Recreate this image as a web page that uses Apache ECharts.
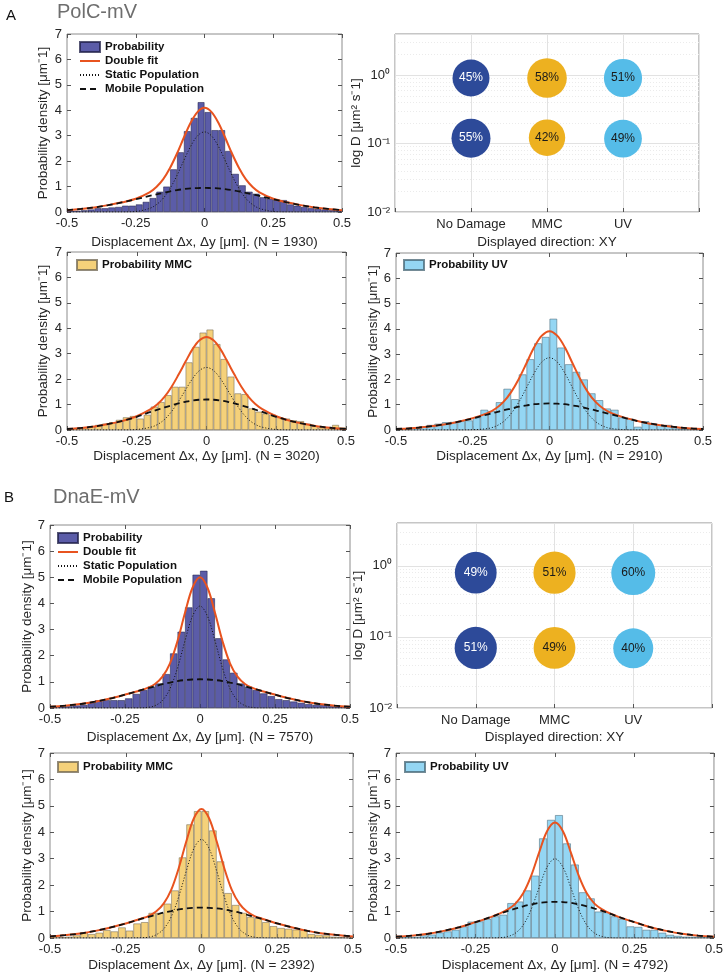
<!DOCTYPE html>
<html>
<head>
<meta charset="utf-8">
<script src="https://cdn.jsdelivr.net/npm/echarts@6/dist/echarts.min.js"></script>
<style>html,body{margin:0;padding:0;background:#fff}#c{width:726px;height:977px}</style>
</head>
<body>
<div id="c"></div>
<script>
// ---------------- DATA ----------------
const binStart = -0.5, binWidth = 0.025;          // 40 histogram bins over [-0.5, 0.5]
const xTicks = [-0.5, -0.25, 0, 0.25, 0.5];
const fitX = [-0.5,-0.45,-0.4,-0.35,-0.3,-0.25,-0.2,-0.175,-0.15,-0.125,-0.1,-0.075,-0.05,-0.025,0,0.025,0.05,0.075,0.1,0.125,0.15,0.175,0.2,0.25,0.3,0.35,0.4,0.45,0.5];

// Panel A (PolC-mV)
const aProbN = 1930, aMmcN = 3020, aUvN = 2910;
const aProbBins = [0.05,0.05,0.07,0.1,0.15,0.15,0.18,0.2,0.25,0.25,0.3,0.4,0.55,0.8,1.0,1.68,2.35,3.18,3.7,4.32,3.93,3.22,3.22,2.4,1.5,1.05,0.8,0.72,0.58,0.52,0.48,0.47,0.3,0.25,0.2,0.15,0.12,0.1,0.08,0.05];
const aProbStatic = [0,0,0,0,0,0.02,0.14,0.29,0.54,0.93,1.44,2.03,2.59,3.00,3.15,3.00,2.59,2.03,1.44,0.93,0.54,0.29,0.14,0.02,0,0,0,0,0];
const aProbMobile = [0.07,0.12,0.18,0.27,0.38,0.50,0.63,0.69,0.75,0.81,0.86,0.90,0.93,0.94,0.95,0.94,0.93,0.90,0.86,0.81,0.75,0.69,0.63,0.50,0.38,0.27,0.18,0.12,0.07];
const aProbDouble = [0.07,0.12,0.18,0.27,0.38,0.52,0.77,0.98,1.29,1.74,2.30,2.93,3.52,3.94,4.10,3.94,3.52,2.93,2.30,1.74,1.29,0.98,0.77,0.52,0.38,0.27,0.18,0.12,0.07];

const aMmcBins = [0.05,0.08,0.1,0.15,0.2,0.25,0.3,0.4,0.5,0.55,0.45,0.6,0.92,1.1,1.37,1.7,1.7,2.66,3.27,3.83,3.95,3.38,2.79,2.1,1.44,1.41,0.85,0.72,0.65,0.6,0.5,0.45,0.38,0.35,0.25,0.15,0.1,0.1,0.2,0.1];
const aMmcStatic = [0,0,0,0,0,0.02,0.11,0.22,0.42,0.73,1.13,1.58,2.02,2.34,2.46,2.34,2.02,1.58,1.13,0.73,0.42,0.22,0.11,0.02,0,0,0,0,0];
const aMmcMobile = [0.04,0.08,0.14,0.24,0.36,0.52,0.71,0.80,0.89,0.97,1.05,1.11,1.16,1.19,1.20,1.19,1.16,1.11,1.05,0.97,0.89,0.80,0.71,0.52,0.36,0.24,0.14,0.08,0.04];
const aMmcDouble = [0.04,0.08,0.14,0.24,0.36,0.54,0.82,1.02,1.31,1.70,2.18,2.69,3.18,3.53,3.66,3.53,3.18,2.69,2.18,1.70,1.31,1.02,0.82,0.54,0.36,0.24,0.14,0.08,0.04];

const aUvBins = [0.03,0.05,0.1,0.15,0.2,0.25,0.31,0.32,0.35,0.38,0.5,0.8,0.75,1.1,1.63,1.22,2.2,2.8,3.43,3.68,4.4,3.26,2.6,2.3,2.0,1.45,1.18,0.85,0.8,0.5,0.45,0.13,0.35,0.25,0.2,0.2,0.1,0.05,0.05,0.03];
const aUvStatic = [0,0,0,0,0,0.01,0.06,0.15,0.33,0.65,1.10,1.67,2.25,2.69,2.86,2.69,2.25,1.67,1.10,0.65,0.33,0.15,0.06,0.01,0,0,0,0,0];
const aUvMobile = [0.04,0.07,0.13,0.21,0.32,0.46,0.62,0.70,0.78,0.85,0.92,0.97,1.02,1.04,1.05,1.04,1.02,0.97,0.92,0.85,0.78,0.70,0.62,0.46,0.32,0.21,0.13,0.07,0.04];
const aUvDouble = [0.04,0.07,0.13,0.21,0.32,0.47,0.68,0.85,1.11,1.50,2.02,2.64,3.27,3.73,3.91,3.73,3.27,2.64,2.02,1.50,1.11,0.85,0.68,0.47,0.32,0.21,0.13,0.07,0.04];

// Panel B (DnaE-mV)
const bProbN = 7570, bMmcN = 2392, bUvN = 4792;
const bProbBins = [0.03,0.05,0.07,0.1,0.12,0.2,0.3,0.3,0.3,0.3,0.37,0.54,0.69,0.82,0.94,1.3,2.09,2.92,3.85,5.1,5.25,4.2,2.67,1.86,1.35,0.94,0.82,0.69,0.56,0.46,0.34,0.3,0.25,0.2,0.15,0.12,0.12,0.08,0.05,0.03];
const bProbStatic = [0,0,0,0,0,0,0,0.02,0.09,0.29,0.74,1.53,2.57,3.51,3.90,3.51,2.57,1.53,0.74,0.29,0.09,0.02,0,0,0,0,0,0,0];
const bProbMobile = [0.05,0.09,0.15,0.24,0.36,0.51,0.67,0.75,0.83,0.91,0.97,1.03,1.07,1.09,1.10,1.09,1.07,1.03,0.97,0.91,0.83,0.75,0.67,0.51,0.36,0.24,0.15,0.09,0.05];
const bProbDouble = [0.05,0.09,0.15,0.24,0.36,0.51,0.67,0.77,0.92,1.20,1.71,2.56,3.64,4.60,5.00,4.60,3.64,2.56,1.71,1.20,0.92,0.77,0.67,0.51,0.36,0.24,0.15,0.09,0.05];

const bMmcBins = [0.05,0.03,0.05,0.1,0.2,0.15,0.2,0.3,0.25,0.4,0.28,0.55,0.6,0.95,0.95,1.3,1.8,3.05,4.3,4.8,4.8,4.07,2.9,1.7,1.25,0.95,0.8,0.75,0.6,0.45,0.38,0.35,0.32,0.3,0.15,0.12,0.1,0.05,0.03,0.02];
const bMmcStatic = [0,0,0,0,0,0,0.01,0.03,0.12,0.34,0.80,1.57,2.54,3.39,3.73,3.39,2.54,1.57,0.80,0.34,0.12,0.03,0.01,0,0,0,0,0,0];
const bMmcMobile = [0.06,0.11,0.17,0.27,0.40,0.55,0.72,0.80,0.88,0.96,1.02,1.08,1.12,1.14,1.15,1.14,1.12,1.08,1.02,0.96,0.88,0.80,0.72,0.55,0.40,0.27,0.17,0.11,0.06];
const bMmcDouble = [0.06,0.11,0.17,0.27,0.40,0.55,0.73,0.83,1.00,1.30,1.82,2.65,3.66,4.53,4.88,4.53,3.66,2.65,1.82,1.30,1.00,0.83,0.73,0.55,0.40,0.27,0.17,0.11,0.06];

const bUvBins = [0.03,0.05,0.05,0.1,0.13,0.21,0.25,0.31,0.44,0.62,0.63,0.72,0.82,0.88,1.32,1.38,1.8,2.36,3.77,4.47,4.65,3.58,2.78,1.73,1.5,1.0,0.97,0.82,0.72,0.44,0.42,0.31,0.31,0.2,0.12,0.08,0.05,0.05,0.03,0.02];
const bUvStatic = [0,0,0,0,0,0,0,0.01,0.05,0.18,0.49,1.08,1.90,2.68,3.00,2.68,1.90,1.08,0.49,0.18,0.05,0.01,0,0,0,0,0,0,0];
const bUvMobile = [0.05,0.09,0.16,0.27,0.41,0.60,0.80,0.91,1.02,1.11,1.20,1.27,1.33,1.36,1.37,1.36,1.33,1.27,1.20,1.11,1.02,0.91,0.80,0.60,0.41,0.27,0.16,0.09,0.05];
const bUvDouble = [0.05,0.09,0.16,0.27,0.41,0.60,0.80,0.92,1.07,1.29,1.69,2.35,3.23,4.04,4.37,4.04,3.23,2.35,1.69,1.29,1.07,0.92,0.80,0.60,0.41,0.27,0.16,0.09,0.05];

// Bubble charts: diffusion coefficients and population fractions
const conditions = ['No Damage', 'MMC', 'UV'];
const aFastD = [0.91, 0.91, 0.91], aSlowD = [0.12, 0.122, 0.118];
const aFastPct = [45, 58, 51], aSlowPct = [55, 42, 49];
const bFastD = [0.80, 0.80, 0.79], bSlowD = [0.070, 0.070, 0.069];
const bFastPct = [49, 51, 60], bSlowPct = [51, 49, 40];
const logTickLabels = {'-2': '10⁻²', '-1': '10⁻¹', '0': '10⁰'};
const minorLogLines = [0.02,0.03,0.04,0.05,0.06,0.07,0.08,0.09,0.2,0.3,0.4,0.5,0.6,0.7,0.8,0.9,2,3];

// ---------------- STYLE / LAYOUT ----------------
const FONT = '"Liberation Sans", Arial, Helvetica, sans-serif';
const TXT = '#262626', TICK = '#555', BOX = '#8c8c8c';
const FIT_COLOR = '#e8531f';
const condColors = ['#2d4a99', '#edb120', '#55bce8'];
const condLabel = ['#ffffff', '#1a1a1a', '#1a1a1a'];
const fills = {
  prob: {color: '#5b5ca8', border: 'rgba(30,30,70,0.75)'},
  mmc: {color: '#f5d17a', border: 'rgba(110,100,80,0.75)'},
  uv: {color: '#94d6f3', border: 'rgba(70,100,115,0.75)'}
};

const hists = [
  {grid:{left:67,top:34,width:275,height:178}, bins:aProbBins, st:aProbStatic, mo:aProbMobile, df:aProbDouble, n:aProbN, barName:'Probability', fill:fills.prob, legend:{left:79,top:40,full:true}, yGap:17, xGap:23},
  {grid:{left:67,top:252,width:279,height:178}, bins:aMmcBins, st:aMmcStatic, mo:aMmcMobile, df:aMmcDouble, n:aMmcN, barName:'Probability MMC', fill:fills.mmc, legend:{left:76,top:258}, yGap:17, xGap:19},
  {grid:{left:396,top:253,width:307,height:177}, bins:aUvBins, st:aUvStatic, mo:aUvMobile, df:aUvDouble, n:aUvN, barName:'Probability UV', fill:fills.uv, legend:{left:403,top:258}, yGap:16, xGap:19},
  {grid:{left:50,top:525,width:300,height:183}, bins:bProbBins, st:bProbStatic, mo:bProbMobile, df:bProbDouble, n:bProbN, barName:'Probability', fill:fills.prob, legend:{left:57,top:531,full:true}, yGap:13, xGap:22},
  {grid:{left:50,top:753,width:303,height:185}, bins:bMmcBins, st:bMmcStatic, mo:bMmcMobile, df:bMmcDouble, n:bMmcN, barName:'Probability MMC', fill:fills.mmc, legend:{left:57,top:760}, yGap:13, xGap:20},
  {grid:{left:396,top:753,width:319,height:185}, bins:bUvBins, st:bUvStatic, mo:bUvMobile, df:bUvDouble, n:bUvN, barName:'Probability UV', fill:fills.uv, legend:{left:404,top:760}, yGap:13, xGap:20}
];
const bubbles = [
  {grid:{left:395,top:34,width:304,height:178}, fastD:aFastD, slowD:aSlowD, fastPct:aFastPct, slowPct:aSlowPct, base:28, yGap:29, xGap:23},
  {grid:{left:397,top:523,width:315,height:185}, fastD:bFastD, slowD:bSlowD, fastPct:bFastPct, slowPct:bSlowPct, base:32, yGap:25, xGap:22}
];

const option = {
  animation: false,
  backgroundColor: '#fff',
  textStyle: {fontFamily: FONT},
  grid: [], xAxis: [], yAxis: [], series: [], legend: [],
  graphic: [
    {type:'text', left:6, top:8, style:{text:'A', fontSize:15, fill:'#111', fontFamily:FONT}},
    {type:'text', left:57, top:2, style:{text:'PolC-mV', fontSize:20, fill:'#6e6e6e', fontFamily:FONT}},
    {type:'text', left:4, top:490, style:{text:'B', fontSize:15, fill:'#111', fontFamily:FONT}},
    {type:'text', left:53, top:487, style:{text:'DnaE-mV', fontSize:20, fill:'#6e6e6e', fontFamily:FONT}}
  ]
};

const tickStyle = {show:true, inside:true, length:4, lineStyle:{color:TICK, width:1}};
const noLine = {show:false, onZero:false};
const labelStyle = {color:TXT, fontSize:13, fontFamily:FONT};
const hiddenSymbol = {color:'rgba(0,0,0,0)', borderColor:'rgba(0,0,0,0)', borderWidth:0};

hists.forEach(p => {
  const g = option.grid.length;
  option.grid.push(Object.assign({show:true, borderColor:BOX, borderWidth:1, backgroundColor:'#fff'}, p.grid));
  const xb = option.xAxis.length;
  option.xAxis.push({gridIndex:g, type:'value', position:'bottom', min:xTicks[0], max:xTicks[xTicks.length-1], interval:0.25,
    axisLine:noLine, axisTick:tickStyle, splitLine:{show:false},
    axisLabel:Object.assign({margin:5}, labelStyle),
    name:'Displacement Δx, Δy [μm]. (N = ' + p.n + ')', nameLocation:'middle', nameGap:p.xGap,
    nameTextStyle:{color:TXT, fontSize:13.5, fontFamily:FONT}});
  option.xAxis.push({gridIndex:g, type:'value', position:'top', min:-0.5, max:0.5, interval:0.25,
    axisLine:noLine, axisTick:tickStyle, axisLabel:{show:false}, splitLine:{show:false}});
  const yb = option.yAxis.length;
  option.yAxis.push({gridIndex:g, type:'value', position:'left', min:0, max:7, interval:1,
    axisLine:noLine, axisTick:tickStyle, splitLine:{show:false},
    axisLabel:Object.assign({margin:5}, labelStyle),
    name:'Probability density [μm⁻1]', nameLocation:'middle', nameGap:p.yGap,
    nameTextStyle:{color:TXT, fontSize:13.5, fontFamily:FONT}});
  option.yAxis.push({gridIndex:g, type:'value', position:'right', min:0, max:7, interval:1,
    axisLine:noLine, axisTick:tickStyle, axisLabel:{show:false}, splitLine:{show:false}});

  option.series.push({type:'bar', name:p.barName, xAxisIndex:xb, yAxisIndex:yb, barWidth:'100%',
    data:p.bins.map((v,k) => [binStart + binWidth*(k+0.5), v]),
    itemStyle:{color:p.fill.color, borderColor:p.fill.border, borderWidth:0.7}, z:2});
  const lineBase = {type:'line', xAxisIndex:xb, yAxisIndex:yb, symbol:'none', showSymbol:false, smooth:0.35, clip:true, z:4};
  option.series.push(Object.assign({}, lineBase, {name:'Double fit', data:fitX.map((x,k)=>[x,p.df[k]]),
    lineStyle:{color:FIT_COLOR, width:2}, itemStyle:{color:FIT_COLOR}}));
  option.series.push(Object.assign({}, lineBase, {name:'Static Population', data:fitX.map((x,k)=>[x,p.st[k]]),
    lineStyle:{color:'#111', width:1, type:[1,2]}, itemStyle:{color:'#111'}}));
  option.series.push(Object.assign({}, lineBase, {name:'Mobile Population', data:fitX.map((x,k)=>[x,p.mo[k]]),
    lineStyle:{color:'#111', width:1.8, type:[6,4]}, itemStyle:{color:'#111'}}));

  const legendData = p.legend.full
    ? [{name:'Probability', icon:'rect'},
       {name:'Double fit', itemStyle:hiddenSymbol},
       {name:'Static Population', itemStyle:hiddenSymbol},
       {name:'Mobile Population', itemStyle:hiddenSymbol}]
    : [{name:p.barName, icon:'rect'}];
  option.legend.push({left:p.legend.left, top:p.legend.top, orient:'vertical', selectedMode:false,
    itemWidth:20, itemHeight:10, itemGap:0, padding:0, data:legendData,
    textStyle:{fontWeight:'bold', fontSize:11.5, color:'#111', fontFamily:FONT, lineHeight:14}});
});

bubbles.forEach(b => {
  const g = option.grid.length;
  option.grid.push(Object.assign({show:true, borderColor:BOX, borderWidth:1, backgroundColor:'#fff'}, b.grid));
  const xi = option.xAxis.length;
  option.xAxis.push({gridIndex:g, type:'value', min:0, max:conditions.length+1, interval:1,
    axisLine:noLine, axisTick:tickStyle,
    splitLine:{show:true, lineStyle:{color:'#e2e2e2', width:1}},
    axisLabel:Object.assign({margin:6, formatter:v => conditions[v-1] || ''}, labelStyle),
    name:'Displayed direction: XY', nameLocation:'middle', nameGap:b.xGap,
    nameTextStyle:{color:TXT, fontSize:13.5, fontFamily:FONT}});
  const yi = option.yAxis.length;
  option.yAxis.push({gridIndex:g, type:'log', logBase:10, min:0.01, max:4,
    axisLine:noLine, axisTick:{show:false},
    splitLine:{show:true, lineStyle:{color:'#e2e2e2', width:1}},
    axisLabel:Object.assign({margin:5, formatter:v => {
      const e = Math.log10(v); const r = Math.round(e);
      return Math.abs(e - r) < 1e-6 && logTickLabels[String(r)] ? logTickLabels[String(r)] : '';
    }}, labelStyle),
    name:'log D [μm² s⁻1]', nameLocation:'middle', nameGap:b.yGap,
    nameTextStyle:{color:TXT, fontSize:13.5, fontFamily:FONT}});
  conditions.forEach((c, k) => {
    const s = {type:'scatter', name:c, xAxisIndex:xi, yAxisIndex:yi, z:5,
      data:[[k+1, b.fastD[k], b.fastPct[k]], [k+1, b.slowD[k], b.slowPct[k]]],
      symbol:'circle', symbolSize:v => b.base + 0.2*v[2],
      itemStyle:{color:condColors[k], opacity:1},
      label:{show:true, position:'inside', formatter:pp => pp.value[2] + '%', color:condLabel[k], fontSize:12, fontFamily:FONT}};
    if (k === 0) {
      s.markLine = {silent:true, symbol:'none', animation:false, label:{show:false},
        lineStyle:{color:'#ebebeb', type:[1,2], width:1},
        data:minorLogLines.map(v => ({yAxis:v}))};
    }
    option.series.push(s);
  });
});

const chart = echarts.init(document.getElementById('c'), null, {renderer:'canvas'});
chart.setOption(option);
</script>
</body>
</html>
